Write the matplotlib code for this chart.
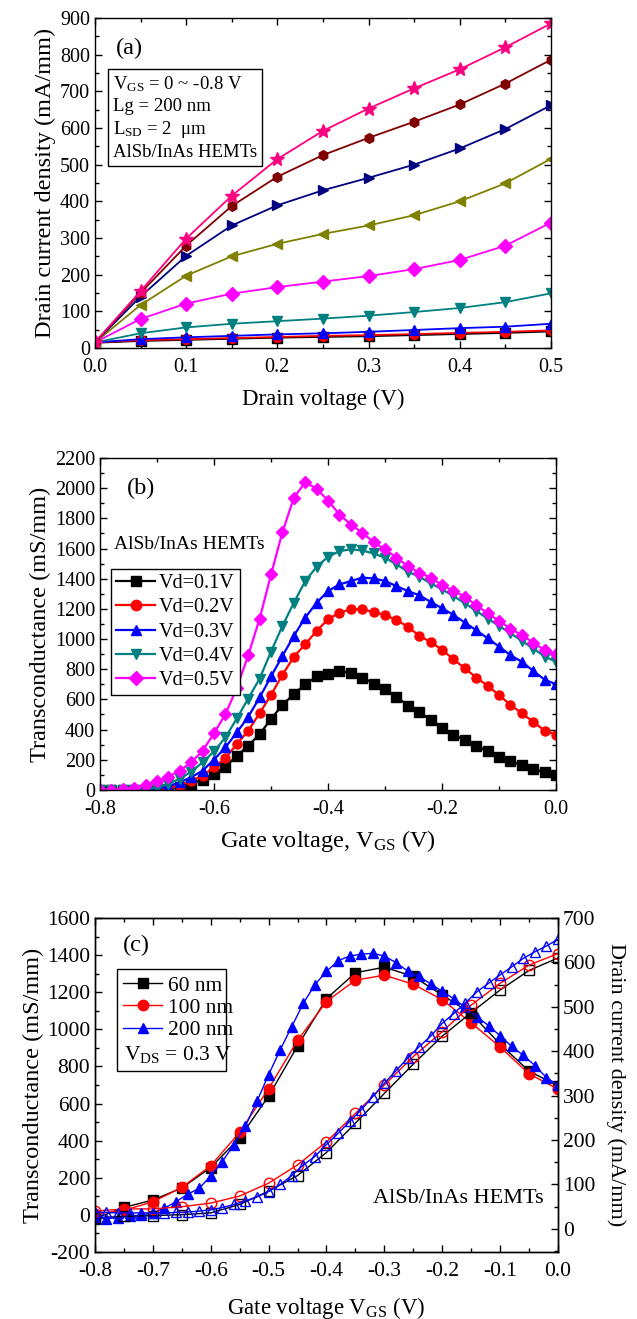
import matplotlib
matplotlib.use("Agg")
import matplotlib.pyplot as plt
from matplotlib.ticker import MultipleLocator
from matplotlib.patches import Rectangle

plt.rcParams['font.family'] = ['Liberation Serif', 'DejaVu Serif']
plt.rcParams['mathtext.fontset'] = 'custom'
plt.rcParams['mathtext.rm'] = 'Liberation Serif'
plt.rcParams['mathtext.it'] = 'Liberation Serif:italic'
plt.rcParams['axes.unicode_minus'] = False
plt.rcParams['axes.linewidth'] = 1.0

# ---- panel (a): output characteristics ----
vd = [0.0, 0.05, 0.10, 0.15, 0.20, 0.25, 0.30, 0.35, 0.40, 0.45, 0.50]
id_a = [
    [14, 19, 22, 25, 28, 30, 32, 35, 38, 41, 45],          # -0.8 V
    [15, 21, 24, 27, 30, 33, 35, 38, 41, 44, 48],          # -0.7 V
    [15, 24, 29, 33, 37, 40, 44, 49, 54, 58, 66],          # -0.6 V
    [15, 40, 56, 66, 73, 80, 88, 98, 109, 125, 149],       # -0.5 V
    [15, 79, 121, 148, 166, 181, 196, 215, 240, 279, 342], # -0.4 V
    [15, 117, 197, 250, 284, 311, 334, 362, 400, 449, 516],# -0.3 V
    [15, 140, 251, 334, 389, 430, 464, 500, 544, 597, 662],# -0.2 V
    [15, 150, 279, 387, 467, 526, 573, 617, 664, 721, 786],# -0.1 V
    [15, 155, 298, 415, 515, 592, 653, 708, 760, 820, 885],# 0 V
]
colors_a = ['black', '#FF0000', '#0000FF', '#008080', '#FF00FF',
            '#808000', '#000080', '#800000', '#FF0080']
markers_a = ['s', 'o', '^', 'v', 'D', '<', '>', 'h', '*']

# ---- panel (b): transconductance vs VGS ----
vg_b = [-0.80, -0.78, -0.76, -0.74, -0.72, -0.70, -0.68, -0.66, -0.64, -0.62,
        -0.60, -0.58, -0.56, -0.54, -0.52, -0.50, -0.48, -0.46, -0.44, -0.42,
        -0.40, -0.38, -0.36, -0.34, -0.32, -0.30, -0.28, -0.26, -0.24, -0.22,
        -0.20, -0.18, -0.16, -0.14, -0.12, -0.10, -0.08, -0.06, -0.04, -0.02, 0.0]
gm_vd01 = [0, 0, 0, 0, 0, 2, 8, 20, 40, 68,
           106, 154, 227, 293, 370, 470, 564, 635, 701, 752,
           767, 785, 778, 745, 705, 668, 619, 558, 514, 465,
           408, 364, 331, 293, 256, 220, 190, 165, 139, 117, 101]
gm_vd02 = [0, 0, 0, 0, 0, 3, 11, 29, 62, 95,
           150, 212, 304, 392, 509, 630, 763, 882, 966, 1054,
           1131, 1175, 1197, 1197, 1179, 1160, 1126, 1082, 1021, 981,
           928, 866, 805, 745, 690, 628, 564, 507, 452, 392, 366]
gm_vd03 = [0, 0, 0, 0, 0, 7, 24, 51, 84, 128,
           201, 282, 381, 485, 613, 752, 888, 1021, 1142, 1241,
           1318, 1362, 1384, 1407, 1402, 1384, 1351, 1318, 1290, 1246,
           1204, 1160, 1109, 1058, 1005, 950, 893, 849, 789, 730, 701]
gm_vd04 = [0, 0, 0, 0, 5, 15, 40, 75, 121, 183,
           256, 348, 474, 606, 738, 917, 1087, 1241, 1384, 1479,
           1545, 1583, 1594, 1587, 1567, 1539, 1495, 1446, 1413, 1369,
           1329, 1285, 1237, 1186, 1135, 1087, 1038, 988, 937, 884, 849]
gm_vd05 = [0, 0, 5, 15, 35, 57, 88, 128, 183, 260,
           375, 503, 675, 893, 1135, 1428, 1709, 1936, 2039, 1995,
           1918, 1825, 1759, 1704, 1642, 1594, 1539, 1484, 1440, 1406,
           1358, 1318, 1281, 1224, 1171, 1120, 1069, 1025, 977, 926, 904]
labels_b = ['Vd=0.1V', 'Vd=0.2V', 'Vd=0.3V', 'Vd=0.4V', 'Vd=0.5V']

# ---- panel (c): gate length comparison ----
vg_c = [-0.80, -0.75, -0.70, -0.65, -0.60, -0.55, -0.50, -0.45, -0.40,
        -0.35, -0.30, -0.25, -0.20, -0.15, -0.10, -0.05, 0.0]
gm_60 = [-20, 40, 80, 145, 255, 415, 640, 910, 1165, 1305, 1335, 1285, 1185, 1085, 920, 775, 695]
gm_100 = [5, 25, 70, 148, 265, 445, 680, 940, 1150, 1265, 1292, 1243, 1160, 1035, 905, 760, 678]
id_60 = [25, 28, 30, 32, 36, 55, 85, 120, 172, 238, 305, 371, 434, 487, 538, 582, 610]
id_100 = [40, 45, 45, 50, 58, 74, 103, 144, 196, 260, 324, 388, 444, 504, 553, 594, 620]
vg_c2 = vg_b
gm_200 = [-15, -20, -15, -8, 0, 10, 36, 71, 111, 143,
          210, 287, 378, 479, 613, 755, 889, 1015, 1140, 1241,
          1312, 1370, 1395, 1405, 1410, 1395, 1360, 1315, 1285, 1245,
          1205, 1165, 1118, 1068, 1020, 965, 908, 860, 805, 740, 700]
id_200 = [38, 37, 36, 36, 36, 36, 36, 37, 38, 40,
          43, 48, 55, 63, 72, 84, 100, 120, 144, 163,
          190, 215, 242, 268, 298, 328, 356, 384, 410, 434,
          463, 485, 509, 534, 553, 572, 590, 609, 624, 637, 652]

TICK = 14.5
LAB = 17.5


def style(ax, right=True, size=TICK):
    ax.tick_params(which='both', direction='in', top=True, right=right, labelsize=size)
    ax.tick_params(which='major', length=5, width=1)
    ax.tick_params(which='minor', length=3, width=1)
    ax.tick_params(axis='x', pad=7)


fig = plt.figure(figsize=(6.37, 13.19), dpi=100)

# (a)
ax1 = fig.add_axes([0.149, 0.7362, 0.716, 0.2502])
for ys, c, m in zip(id_a, colors_a, markers_a):
    ms = 10 if m == '*' else 7
    ax1.plot(vd, ys, color=c, marker=m, ms=ms, lw=1.3)
ax1.set_xlim(0, 0.5)
ax1.set_ylim(0, 900)
ax1.xaxis.set_major_locator(MultipleLocator(0.1))
ax1.xaxis.set_minor_locator(MultipleLocator(0.05))
ax1.yaxis.set_major_locator(MultipleLocator(100))
ax1.yaxis.set_minor_locator(MultipleLocator(50))
style(ax1)
ax1.set_xlabel('Drain voltage (V)', fontsize=LAB - 1, labelpad=9)
ax1.set_ylabel('Drain current density (mA/mm)', fontsize=LAB, labelpad=3)
ax1.text(0.045, 0.94, '(a)', transform=ax1.transAxes, fontsize=LAB, va='top')
ax1.text(0.04, 0.83,
         'V$_{\\mathrm{GS}}$ = 0 ~ -0.8 V\nLg = 200 nm\nL$_{\\mathrm{SD}}$ = 2  \u03bcm\nAlSb/InAs HEMTs',
         transform=ax1.transAxes, fontsize=13.5, va='top', linespacing=1.3,
         bbox=dict(boxstyle='square,pad=0.25', fc='white', ec='black', lw=1))

# (b)
ax2 = fig.add_axes([0.157, 0.4011, 0.716, 0.2517])
series_b = [gm_vd01, gm_vd02, gm_vd03, gm_vd04, gm_vd05]
for ys, c, m, lab in zip(series_b, colors_a[:5], markers_a[:5], labels_b):
    ax2.plot(vg_b, ys, color=c, marker=m, ms=6.5, lw=1.6, label=lab)
ax2.set_xlim(-0.8, 0)
ax2.set_ylim(0, 2200)
ax2.xaxis.set_major_locator(MultipleLocator(0.2))
ax2.xaxis.set_minor_locator(MultipleLocator(0.1))
ax2.yaxis.set_major_locator(MultipleLocator(200))
ax2.yaxis.set_minor_locator(MultipleLocator(100))
style(ax2)
ax2.set_xlabel('Gate voltage, V$_{\\mathrm{GS}}$ (V)', fontsize=LAB, labelpad=7)
ax2.set_ylabel('Transconductance (mS/mm)', fontsize=LAB, labelpad=3)
ax2.text(0.06, 0.94, '(b)', transform=ax2.transAxes, fontsize=LAB, va='top')
ax2.text(0.03, 0.74, 'AlSb/InAs HEMTs', transform=ax2.transAxes, fontsize=14, va='center')
leg = ax2.legend(loc='upper left', bbox_to_anchor=(0.025, 0.665), fontsize=14.5,
                 fancybox=False, edgecolor='black', framealpha=1,
                 handlelength=1.9, handletextpad=0.2, labelspacing=0.25,
                 borderpad=0.25, borderaxespad=0, markerscale=1.15)
leg.get_frame().set_linewidth(1)

# (c)
ax3 = fig.add_axes([0.149, 0.0508, 0.727, 0.2532])
ax4 = ax3.twinx()
ax3.plot(vg_c, gm_60, color='black', marker='s', ms=7, lw=1, label='60 nm')
ax3.plot(vg_c, gm_100, color='red', marker='o', ms=7.5, lw=1, label='100 nm')
ax3.plot(vg_c2, gm_200, color='blue', marker='^', ms=7.5, lw=1, label='200 nm')
ax4.plot(vg_c, id_60, color='black', marker='s', ms=7, lw=1, mfc='none')
ax4.plot(vg_c, id_100, color='red', marker='o', ms=7.5, lw=1, mfc='none')
ax4.plot(vg_c2, id_200, color='blue', marker='^', ms=7.5, lw=1, mfc='none')
ax3.set_xlim(-0.8, 0)
ax3.set_ylim(-200, 1600)
ax4.set_ylim(-52, 700)
ax3.xaxis.set_major_locator(MultipleLocator(0.1))
ax3.xaxis.set_minor_locator(MultipleLocator(0.05))
ax3.yaxis.set_major_locator(MultipleLocator(200))
ax3.yaxis.set_minor_locator(MultipleLocator(100))
ax4.yaxis.set_major_locator(MultipleLocator(100))
ax4.yaxis.set_minor_locator(MultipleLocator(50))
style(ax3, right=False, size=15.5)
ax4.tick_params(which='both', direction='in', labelsize=15.5)
ax4.tick_params(which='major', length=5, width=1)
ax4.tick_params(which='minor', length=3, width=1)
ax3.set_xlabel('Gate voltage V$_{\\mathrm{GS}}$ (V)', fontsize=LAB - 1, labelpad=10)
ax3.set_ylabel('Transconductance (mS/mm)', fontsize=LAB, labelpad=2)
ax4.set_ylabel('Drain current density (mA/mm)', fontsize=16, rotation=270, labelpad=22)
ax3.text(0.06, 0.95, '(c)', transform=ax3.transAxes, fontsize=LAB, va='top')
ax3.text(0.97, 0.16, 'AlSb/InAs HEMTs', transform=ax3.transAxes, fontsize=16,
         ha='right', va='center')
ax3.add_patch(Rectangle((0.047, 0.543), 0.235, 0.304, transform=ax3.transAxes,
                        fc='white', ec='black', lw=1, zorder=5))
leg3 = ax3.legend(loc='upper left', bbox_to_anchor=(0.047, 0.847), fontsize=15.5,
                  frameon=False, handlelength=1.8, handletextpad=0.3,
                  labelspacing=0.1, borderpad=0.3, borderaxespad=0)
leg3.set_zorder(6)
ax3.text(0.062, 0.59, 'V$_{\\mathrm{DS}}$ = 0.3 V', transform=ax3.transAxes,
         fontsize=15.5, va='center', zorder=7)

fig.savefig('out.png', dpi=100)
